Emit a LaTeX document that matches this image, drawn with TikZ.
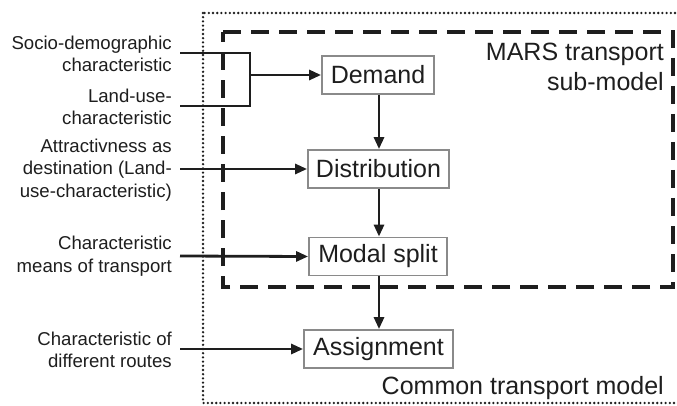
\documentclass[tikz,border=0pt]{standalone}
\usepackage{fontspec}
\setmainfont{Liberation Sans}
\usetikzlibrary{arrows.meta}
\definecolor{ink}{HTML}{1E1E1E}
\definecolor{boxgray}{HTML}{8A8A8A}
\begin{document}
\begin{tikzpicture}[x=1pt,y=-1pt,
  stage/.style={draw=boxgray,line width=1.8pt,rectangle,minimum height=38pt,inner sep=0pt,
    font=\fontsize{25}{30}\selectfont,text=ink},
  side/.style={align=right,anchor=east,inner sep=0pt,font=\fontsize{18.6}{22.5}\selectfont,text=ink},
  big/.style={align=right,anchor=east,inner sep=0pt,font=\fontsize{25}{30}\selectfont,text=ink},
  conn/.style={draw=ink,line width=2.8pt,-{Triangle[length=12pt,width=10pt]}},
  plainline/.style={draw=ink,line width=2.8pt},
  outerbox/.style={draw=ink,line width=2.6pt,line cap=round,dash pattern=on 0pt off 4.2pt},
  innerbox/.style={draw=ink,line width=3.8pt,dash pattern=on 18pt off 10pt}]
\useasboundingbox (0,0) rectangle (677,406);
\fill[white] (0,0) rectangle (677,406);
\clip (0,0) rectangle (677,406);
% frames
\draw[outerbox] (203,13) rectangle (700,403);
\draw[innerbox] (223,32) -- (673,32) -- (673,287) -- (223,287) -- cycle;
% stages
\node[stage,minimum width=112pt] (dem) at (378,75) {Demand};
\node[stage,minimum width=141pt] (dis) at (378.5,169) {Distribution};
\node[stage,minimum width=138pt] (mod) at (378,256.5) {Modal split};
\node[stage,minimum width=149pt] (asg) at (378.5,349) {Assignment};
% frame labels
\node[big] (mars) at (664,67) {MARS transport\\sub-model};
\node[big] (common) at (664,388) {Common transport model};
% side labels
\node[side] (soc) at (172,54) {Socio-demographic\\characteristic};
\node[side] (land) at (172,107) {Land-use-\\characteristic};
\node[side] (attr) at (172,170) {Attractivness as\\destination (Land-\\use-characteristic)};
\node[side] (means) at (172,256) {Characteristic\\means of transport};
\node[side] (routes) at (172,350) {Characteristic of\\different routes};
% bracket
\coordinate (s0) at (180,53);
\coordinate (s1) at (250,53);
\coordinate (l0) at (180,106);
\coordinate (l1) at (250,106);
\coordinate (jn) at (250,75);
\draw[plainline,line join=miter] (s0) -- (s1) -- (l1) -- (l0);
\draw[conn] (jn) -- (dem.west);
% other inputs
\coordinate (a0) at (180,169);
\coordinate (m0) at (180,256);
\coordinate (r0) at (180,349);
\draw[conn] (a0) -- (dis.west);
\draw[conn] (m0) -- (mod.west);
\draw[conn] (r0) -- (asg.west);
% chain
\draw[conn] (dem.south -| 379,0) -- (dis.north -| 379,0);
\draw[conn] (dis.south -| 379,0) -- (mod.north -| 379,0);
\draw[conn] (mod.south -| 379,0) -- (asg.north -| 379,0);
\end{tikzpicture}
\end{document}
